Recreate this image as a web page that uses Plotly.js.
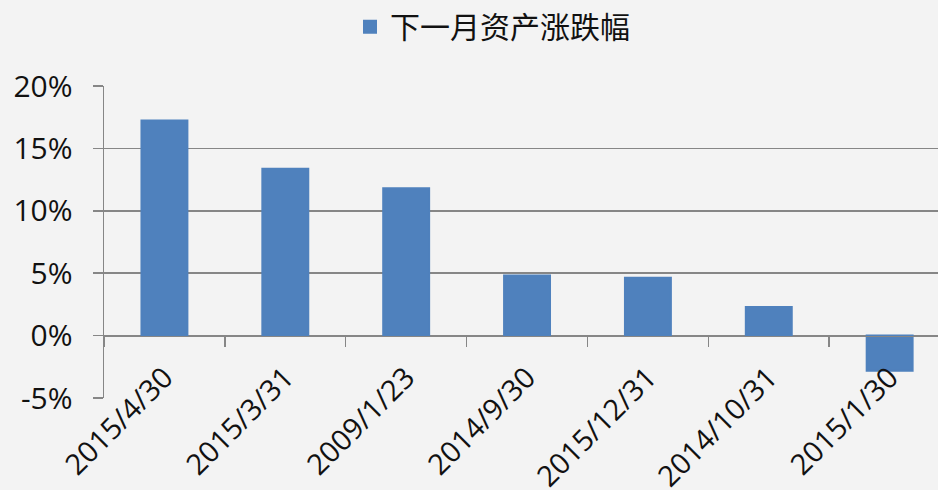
<!DOCTYPE html>
<html>
<head>
<meta charset="utf-8">
<script src="https://cdn.plot.ly/plotly-3.0.1.min.js"></script>
<style>
  html, body { margin: 0; padding: 0; background: #f3f3f3; }
  #chart { width: 938px; height: 490px; }
</style>
</head>
<body>
<div id="chart"></div>
<script>
const categories = ["2015/4/30", "2015/3/31", "2009/1/23", "2014/9/30", "2015/12/31", "2014/10/31", "2015/1/30"];
const values = [0.1724, 0.1337, 0.1181, 0.0482, 0.0463, 0.0230, -0.0281];
const seriesName = "下一月资产涨跌幅";
const yTickVals = [-0.05, 0, 0.05, 0.10, 0.15, 0.20];
const yTickText = ["-5%", "0%", "5%", "10%", "15%", "20%"];

const gridColor = "#868686";
const latinFont = "'Open Sans', 'Noto Sans CJK SC', sans-serif";

const trace = {
  type: "bar",
  x: categories,
  y: values,
  name: seriesName,
  marker: { color: "#4f81bd", line: { width: 2, color: "#4f81bd" } },
  hoverinfo: "x+y"
};

const layout = {
  width: 938,
  height: 490,
  paper_bgcolor: "#f3f3f3",
  plot_bgcolor: "#f3f3f3",
  margin: { l: 104, r: 0, t: 86, b: 92, pad: 0, autoexpand: false },
  bargap: 0.62,
  showlegend: true,
  legend: {
    orientation: "h",
    x: 0.295, xanchor: "left",
    y: 1.19, yanchor: "middle",
    bgcolor: "rgba(0,0,0,0)",
    font: { family: "'Noto Sans CJK SC', sans-serif", size: 30, color: "#111" }
  },
  xaxis: {
    type: "category",
    range: [-0.5, 6.4],
    anchor: "free",
    position: 0.2,
    showline: true,
    linecolor: gridColor,
    linewidth: 1.5,
    showgrid: false,
    zeroline: false,
    ticks: "outside",
    tickson: "boundaries",
    ticklen: 10,
    tickwidth: 1.5,
    tickcolor: gridColor,
    tickangle: -45,
    ticklabelstandoff: 12,
    tickfont: { family: latinFont, size: 29, color: "#111" },
    fixedrange: true
  },
  yaxis: {
    range: [-0.05, 0.20],
    tickvals: yTickVals,
    ticktext: yTickText,
    showline: true,
    linecolor: gridColor,
    linewidth: 1.5,
    showgrid: true,
    gridcolor: gridColor,
    gridwidth: 1.5,
    zeroline: false,
    ticks: "outside",
    ticklen: 10,
    tickwidth: 1.5,
    tickcolor: gridColor,
    ticklabelstandoff: 14,
    tickfont: { family: latinFont, size: 30, color: "#111" },
    fixedrange: true
  }
};

Plotly.newPlot("chart", [trace], layout, { displayModeBar: false, staticPlot: true });
</script>
</body>
</html>
